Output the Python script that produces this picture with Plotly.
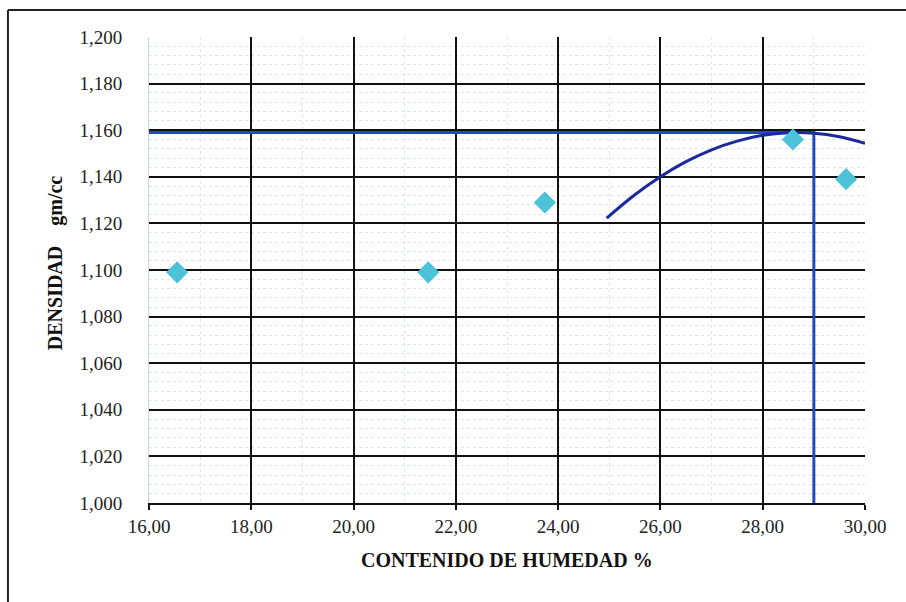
import plotly.graph_objects as go

# Ensayo de compactación: humedad (%) vs densidad seca (gm/cc)
humedad = [16.55, 21.46, 23.74, 28.59, 29.63]
densidad = [1.099, 1.099, 1.129, 1.156, 1.139]

# Curva de compactación ajustada
curva_x = [24.95, 25.5, 26.0, 26.5, 27.0, 27.5, 28.0, 28.5, 29.0, 29.5, 30.0]
curva_y = [1.1223, 1.1323, 1.1400, 1.1465, 1.1516, 1.1553, 1.1578, 1.1589, 1.1587, 1.1572, 1.1544]

# Humedad óptima y densidad máxima
humedad_opt = 29.0
densidad_max = 1.159

x_ticks = [16, 18, 20, 22, 24, 26, 28, 30]
x_labels = ["16,00", "18,00", "20,00", "22,00", "24,00", "26,00", "28,00", "30,00"]

SERIF = "Liberation Serif, Times New Roman, serif"

fig = go.Figure()

fig.add_trace(go.Scatter(
    x=[16, humedad_opt, humedad_opt],
    y=[densidad_max, densidad_max, 1.0],
    mode="lines",
    line=dict(color="#2248c2", width=3),
    hoverinfo="skip",
    showlegend=False,
))

fig.add_trace(go.Scatter(
    x=curva_x, y=curva_y,
    mode="lines",
    line=dict(color="#1a2a9e", width=3, shape="spline"),
    showlegend=False,
))

fig.add_trace(go.Scatter(
    x=humedad, y=densidad,
    mode="markers",
    marker=dict(symbol="diamond", size=17, color="#4cc3d9"),
    showlegend=False,
))

fig.update_layout(
    width=906, height=602,
    margin=dict(l=149, r=41, t=37, b=99),
    paper_bgcolor="white",
    plot_bgcolor="white",
    separators=",.",
    font=dict(family=SERIF, size=18, color="#222222"),
    xaxis=dict(
        range=[16, 30],
        tickvals=x_ticks, ticktext=x_labels,
        showgrid=True, gridcolor="#111111", gridwidth=2,
        minor=dict(dtick=1, showgrid=True, gridcolor="#e0e6e1", gridwidth=1, griddash="dot"),
        ticks="outside", ticklen=5, tickwidth=2, tickcolor="#111111",
        showline=True, linecolor="#111111", linewidth=2,
        zeroline=False,
        tickfont=dict(family=SERIF, size=19, color="#222222"),
    ),
    yaxis=dict(
        range=[1.0, 1.2],
        dtick=0.02, tick0=1.0, tickformat=".3f",
        showgrid=True, gridcolor="#111111", gridwidth=2,
        minor=dict(dtick=0.004, showgrid=True, gridcolor="#e0e6e1", gridwidth=1, griddash="dot"),
        ticks="", ticklabelstandoff=22,
        showline=True, linecolor="#cbd5c9", linewidth=1,
        zeroline=False,
        tickfont=dict(family=SERIF, size=19, color="#222222"),
    ),
    annotations=[
        dict(text="<b>CONTENIDO DE HUMEDAD %</b>", xref="paper", yref="paper",
             x=0.5, y=-0.122, xanchor="center", yanchor="middle", showarrow=False,
             font=dict(family=SERIF, size=20, color="#111111")),
        dict(text="<b>DENSIDAD&nbsp;&nbsp;&nbsp;&nbsp;gm/cc</b>", xref="paper", yref="paper",
             x=-0.131, y=0.515, xanchor="center", yanchor="middle", showarrow=False,
             textangle=-90,
             font=dict(family=SERIF, size=20, color="#111111")),
    ],
    shapes=[
        dict(type="line", xref="paper", yref="paper",
             x0=-0.197, x1=1.06, y0=1.058, y1=1.058,
             line=dict(color="#222222", width=2)),
        dict(type="line", xref="paper", yref="paper",
             x0=-0.197, x1=-0.197, y0=1.058, y1=-0.22,
             line=dict(color="#222222", width=2)),
    ],
)

fig.write_html("out.html")
